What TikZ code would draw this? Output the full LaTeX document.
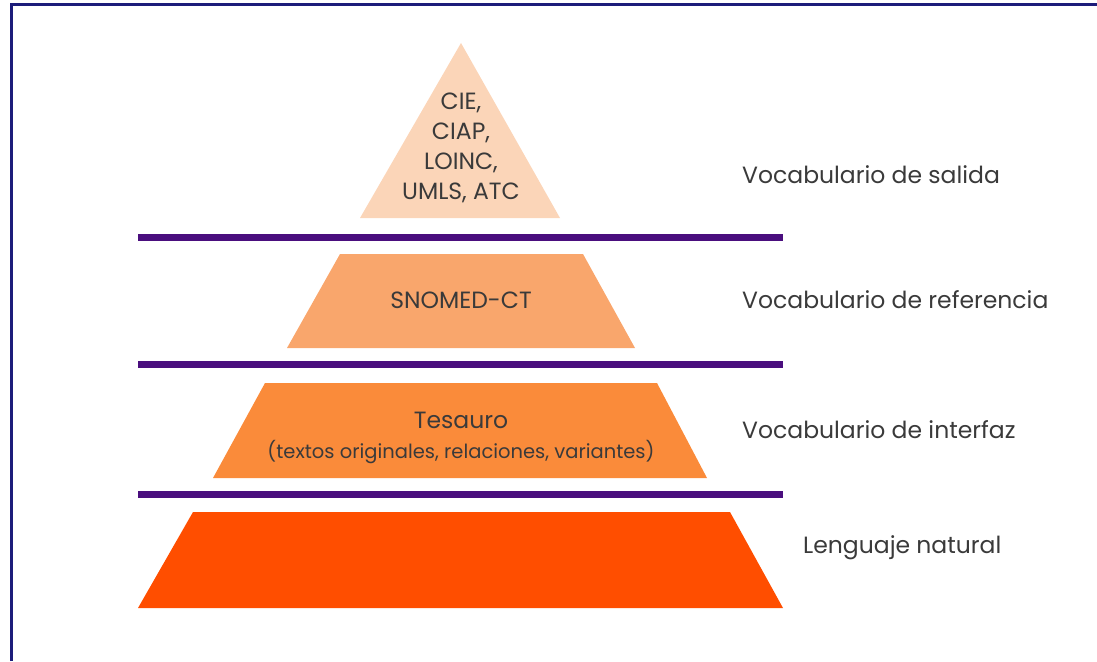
\documentclass[tikz,border=0pt]{standalone}
\usepackage{fontspec}
\setmainfont{Poppins}
\usetikzlibrary{calc}
\definecolor{framenavy}{HTML}{1C1C7A}
\definecolor{barpurple}{HTML}{4A0E7E}
\definecolor{levelA}{HTML}{FBD5B8}
\definecolor{levelB}{HTML}{F9A66C}
\definecolor{levelC}{HTML}{FA8B3A}
\definecolor{levelD}{HTML}{FF4E00}
\definecolor{textgrey}{HTML}{3A3A3A}

\begin{document}
\begin{tikzpicture}[x=1pt,y=-1pt,
	bar/.style={line width=7pt,barpurple},
	levelname/.style={font=\fontsize{23.5}{26}\selectfont,text=textgrey,anchor=west,inner sep=0pt},
	inside/.style={font=\fontsize{23.5}{30}\selectfont,text=textgrey,align=center,inner sep=0pt}]
			%%%%% START %%%%%
			\useasboundingbox (0, 0) rectangle (1097, 661);
			\draw[framenavy, line width=3pt] (11, 661) -- (11, 5) -- (1097, 5);
			
			% pyramid
			\fill[levelA] (461, 43) -- (560, 218) -- (360, 218) -- cycle;
			\fill[levelB] (340, 254) -- (583, 254) -- (635, 348) -- (287, 348) -- cycle;
			\fill[levelC] (265, 383) -- (657, 383) -- (707, 478) -- (213, 478) -- cycle;
			\fill[levelD] (193, 512) -- (730, 512) -- (783, 608) -- (138, 608) -- cycle;
			
			\draw[bar] (138, 237) -- (783, 237);
			\draw[bar] (138, 364) -- (783, 364);
			\draw[bar] (138, 494) -- (783, 494);
			
			\node[inside] (salidaset) at (461, 148) {CIE,\\CIAP,\\LOINC,\\UMLS, ATC};
			\node[inside] (snomed) at (461, 300) {SNOMED-CT};
			\node[inside] (tesauro) at (461, 420) {Tesauro};
			\node[inside, font=\fontsize{19.5}{22}\selectfont] (tesaurodet) at (461, 452) {(textos originales, relaciones, variantes)};
			
			\node[levelname] (salida) at (742, 175) {Vocabulario de salida};
			\node[levelname] (referencia) at (742, 300) {Vocabulario de referencia};
			\node[levelname] (interfaz) at (742, 430) {Vocabulario de interfaz};
			\node[levelname] (natural) at (803, 548) {Lenguaje natural};
			%%%%% END %%%%%
		\end{tikzpicture}
\end{document}
